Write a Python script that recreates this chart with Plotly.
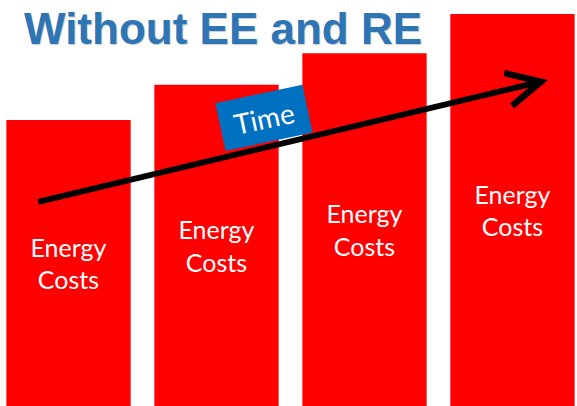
import plotly.graph_objects as go

# Data
periods = ["Period 1", "Period 2", "Period 3", "Period 4"]
energy_costs = [73, 82, 90, 100]
bar_labels = ["Energy<br>Costs"] * 4
title_text = "Without EE and RE"
arrow_label = "Time"

idx = list(range(len(periods)))

fig = go.Figure()
fig.add_trace(go.Bar(
    x=idx,
    y=energy_costs,
    text=bar_labels,
    textposition="inside",
    insidetextanchor="middle",
    textangle=0,
    textfont=dict(family="Lato", size=25, color="white"),
    marker=dict(color="#FF0000", line=dict(width=0)),
    width=0.84,
    hoverinfo="skip",
))

fig.update_layout(
    width=577, height=406,
    margin=dict(l=0, r=0, t=0, b=0),
    paper_bgcolor="white", plot_bgcolor="white",
    showlegend=False,
    uniformtext=dict(minsize=10, mode="show"),
    xaxis=dict(range=[-0.463, 3.436], visible=False, fixedrange=True),
    yaxis=dict(range=[0, 103.6], visible=False, fixedrange=True),
)

# Title
fig.add_annotation(
    text=title_text, xref="paper", yref="paper",
    x=22 / 577, y=1 - 29 / 406, xanchor="left", yanchor="middle",
    showarrow=False,
    font=dict(family="Liberation Sans", size=44, color="#2E75B6",
              weight="bold", shadow="1px 1px 1px rgba(0,0,0,0.2)"),
)

# Time arrow
fig.add_annotation(
    x=3.24, y=83.2, ax=-0.215, ay=52.0,
    xref="x", yref="y", axref="x", ayref="y",
    text="", showarrow=True,
    arrowhead=5, arrowsize=1.1, arrowwidth=6, arrowcolor="black",
)

# Time label
fig.add_annotation(
    x=1.318, y=73.5, xref="x", yref="y",
    text=arrow_label, showarrow=False,
    textangle=-12,
    font=dict(family="Lato", size=28, color="white"),
    bgcolor="#0070C0", width=80, height=40, borderpad=4,
)

fig.write_html(
    "out.html",
    config={"displayModeBar": False},
    post_script="document.body.style.margin='0';document.body.style.overflow='hidden';",
)
